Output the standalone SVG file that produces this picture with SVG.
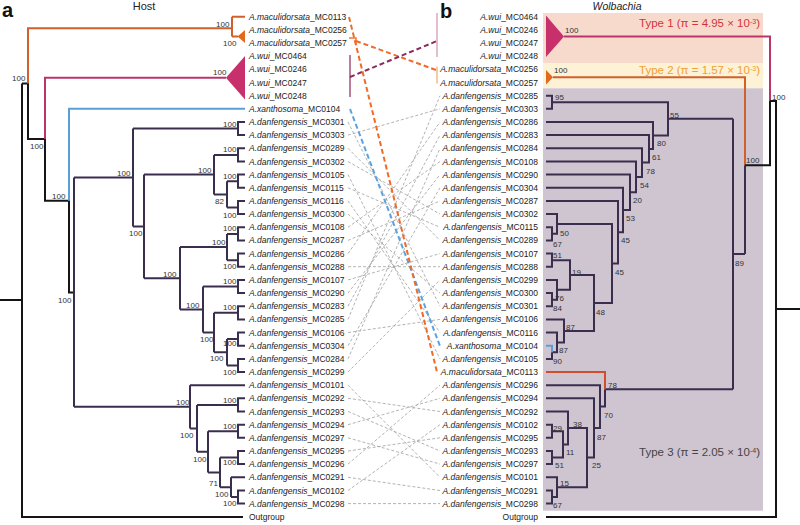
<svg xmlns="http://www.w3.org/2000/svg" width="800" height="525" viewBox="0 0 800 525">
<style>
text{font-family:"Liberation Sans",Arial,sans-serif}
.t{font-size:8.5px;fill:#222}
.r{text-anchor:end}
.i{font-style:italic}
.s{font-size:8px;fill:#333}
.tr{fill:none;stroke:#3a2e4f;stroke-width:2;stroke-linejoin:miter}
.bk{fill:none;stroke:#151515;stroke-width:2}
.or{fill:none;stroke:#d0602c;stroke-width:2}
.cr{fill:none;stroke:#bb356d;stroke-width:2}
.bl{fill:none;stroke:#5b9fd8;stroke-width:2}
.gd{fill:none;stroke:#a0a0a0;stroke-width:0.8;stroke-dasharray:3 2}
.cd{fill:none;stroke-width:2;stroke-dasharray:5 3}
</style>
<rect width="800" height="525" fill="#fff"/>
<g id="panel-titles">
<text x="2" y="17" font-size="20" font-weight="bold" fill="#111">a</text>
<text x="440" y="18" font-size="20" font-weight="bold" fill="#111">b</text>
<text x="144" y="10" font-size="11" text-anchor="middle" fill="#222">Host</text>
<text x="617" y="10" font-size="10.5" font-style="italic" text-anchor="middle" fill="#222">Wolbachia</text>
</g>
<g id="type-bands">
<rect x="543" y="13" width="220" height="50.3" fill="#f8dacd"/>
<rect x="543" y="63.3" width="220" height="25" fill="#fdf1d6"/>
<rect x="543" y="88.3" width="220" height="422.4" fill="#cfc5d1"/>
<text x="760" y="27" font-size="11.5" text-anchor="end" fill="#d2333a">Type 1 (π = 4.95 × 10<tspan font-size="7" baseline-shift="super">-3</tspan>)</text>
<text x="760" y="73.5" font-size="11.5" text-anchor="end" fill="#f0a035">Type 2 (π = 1.57 × 10<tspan font-size="7" baseline-shift="super">-3</tspan>)</text>
<text x="760" y="456" font-size="11.5" text-anchor="end" fill="#444">Type 3 (π = 2.05 × 10<tspan font-size="7" baseline-shift="super">-4</tspan>)</text>
</g>
<g id="host-tree">
<path class="bk" d="M0,300H22M22,83.6V517H243M22,83.6H28V139H45V200.7H69V292.6H74"/>
<path class="or" d="M28,83.6V28.3H232M232,16.7V36.5M232,16.7H245M232,36.5H238"/>
<polygon points="237.5,36.5 245,30 245,43" fill="#e2681f"/>
<path class="cr" d="M45,139V77.7H226"/>
<polygon points="226,77.7 245,56 245,99.5" fill="#c8306c"/>
<path class="bl" d="M69,200.7V108.8H245"/>
<path class="tr" d="M74,177.5V406.8M74,177.5H133M133,128.5V226.5M133,128.5H238M245,122H238V135.1H245
M133,226.5H144M144,174.6V278.3M144,174.6H214M214,154.9V194.4M214,154.9H238M245,148.3H238V161.5H245
M214,194.4H227M227,181.2V207.5M227,181.2H238M245,174.6H238V187.8H245M227,207.5H238M245,200.9H238V214.1H245
M144,278.3H180M180,247V309.5M180,247H227M227,233.9V260.2M227,233.9H238M245,227.3H238V240.4H245M227,260.2H238M245,253.6H238V266.7H245
M180,309.5H203M203,286.5V332.5M203,286.5H238M245,279.9H238V293.1H245
M203,332.5H214M214,312.8V352.3M214,312.8H238M245,306.2H238V319.4H245
M214,352.3H227M227,339.1V365.5M227,339.1H238M245,332.5H238V345.7H245M227,365.5H238M245,358.9H238V372H245
M74,406.8H190M190,385.2V428.4M190,385.2H245
M190,428.4H197M197,404.9V451.8M197,404.9H238M245,398.3H238V411.5H245
M197,451.8H208M208,431.3V472.4M208,431.3H238M245,424.7H238V437.8H245
M208,472.4H220M220,457.5V487.2M220,457.5H238M245,451H238V464.1H245
M220,487.2H231M231,477.3V497M231,477.3H245M231,497H238M245,490.5H238V503.6H245"/>
</g>
<g id="host-support" class="s">
<text x="12" y="81">100</text><text x="30" y="149">100</text><text x="52" y="199">100</text><text x="58" y="303">100</text>
<text x="117" y="176">100</text><text x="129" y="236">100</text><text x="216" y="27">100</text><text x="223" y="46">100</text>
<text x="213" y="75">100</text><text x="198" y="173">100</text><text x="215" y="204">82</text><text x="163" y="277">100</text>
<text x="212" y="245">100</text><text x="186" y="308">100</text><text x="200" y="342">100</text><text x="210" y="361">100</text>
<text x="176" y="405">100</text><text x="180" y="438">100</text><text x="193" y="462">100</text><text x="209" y="486">71</text>
<text x="215" y="497">100</text>
<text x="223" y="127">100</text><text x="223" y="152">100</text><text x="223" y="179">100</text><text x="223" y="218">100</text>
<text x="223" y="231">100</text><text x="223" y="269">100</text><text x="223" y="284">100</text><text x="223" y="310">100</text>
<text x="223" y="346">100</text><text x="223" y="375">100</text><text x="223" y="403">100</text><text x="223" y="429">100</text>
<text x="223" y="465">100</text><text x="223" y="506">100</text>
</g>
<g id="host-labels" class="t">
<text id="h0" x="249" y="19.7"><tspan class="i">A.maculidorsata</tspan>_MC0113</text>
<text id="h1" x="249" y="32.9"><tspan class="i">A.maculidorsata</tspan>_MC0256</text>
<text id="h2" x="249" y="46"><tspan class="i">A.maculidorsata</tspan>_MC0257</text>
<text id="h3" x="249" y="59.2"><tspan class="i">A.wui</tspan>_MC0464</text>
<text id="h4" x="249" y="72.3"><tspan class="i">A.wui</tspan>_MC0246</text>
<text id="h5" x="249" y="85.5"><tspan class="i">A.wui</tspan>_MC0247</text>
<text id="h6" x="249" y="98.7"><tspan class="i">A.wui</tspan>_MC0248</text>
<text id="h7" x="249" y="111.8"><tspan class="i">A.xanthosoma</tspan>_MC0104</text>
<text id="h8" x="249" y="125"><tspan class="i">A.danfengensis</tspan>_MC0301</text>
<text id="h9" x="249" y="138.1"><tspan class="i">A.danfengensis</tspan>_MC0303</text>
<text id="h10" x="249" y="151.3"><tspan class="i">A.danfengensis</tspan>_MC0289</text>
<text id="h11" x="249" y="164.5"><tspan class="i">A.danfengensis</tspan>_MC0302</text>
<text id="h12" x="249" y="177.6"><tspan class="i">A.danfengensis</tspan>_MC0105</text>
<text id="h13" x="249" y="190.8"><tspan class="i">A.danfengensis</tspan>_MC0115</text>
<text id="h14" x="249" y="203.9"><tspan class="i">A.danfengensis</tspan>_MC0116</text>
<text id="h15" x="249" y="217.1"><tspan class="i">A.danfengensis</tspan>_MC0300</text>
<text id="h16" x="249" y="230.3"><tspan class="i">A.danfengensis</tspan>_MC0108</text>
<text id="h17" x="249" y="243.4"><tspan class="i">A.danfengensis</tspan>_MC0287</text>
<text id="h18" x="249" y="256.6"><tspan class="i">A.danfengensis</tspan>_MC0286</text>
<text id="h19" x="249" y="269.7"><tspan class="i">A.danfengensis</tspan>_MC0288</text>
<text id="h20" x="249" y="282.9"><tspan class="i">A.danfengensis</tspan>_MC0107</text>
<text id="h21" x="249" y="296.1"><tspan class="i">A.danfengensis</tspan>_MC0290</text>
<text id="h22" x="249" y="309.2"><tspan class="i">A.danfengensis</tspan>_MC0283</text>
<text id="h23" x="249" y="322.4"><tspan class="i">A.danfengensis</tspan>_MC0285</text>
<text id="h24" x="249" y="335.5"><tspan class="i">A.danfengensis</tspan>_MC0106</text>
<text id="h25" x="249" y="348.7"><tspan class="i">A.danfengensis</tspan>_MC0304</text>
<text id="h26" x="249" y="361.9"><tspan class="i">A.danfengensis</tspan>_MC0284</text>
<text id="h27" x="249" y="375"><tspan class="i">A.danfengensis</tspan>_MC0299</text>
<text id="h28" x="249" y="388.2"><tspan class="i">A.danfengensis</tspan>_MC0101</text>
<text id="h29" x="249" y="401.3"><tspan class="i">A.danfengensis</tspan>_MC0292</text>
<text id="h30" x="249" y="414.5"><tspan class="i">A.danfengensis</tspan>_MC0293</text>
<text id="h31" x="249" y="427.7"><tspan class="i">A.danfengensis</tspan>_MC0294</text>
<text id="h32" x="249" y="440.8"><tspan class="i">A.danfengensis</tspan>_MC0297</text>
<text id="h33" x="249" y="454"><tspan class="i">A.danfengensis</tspan>_MC0295</text>
<text id="h34" x="249" y="467.1"><tspan class="i">A.danfengensis</tspan>_MC0296</text>
<text id="h35" x="249" y="480.3"><tspan class="i">A.danfengensis</tspan>_MC0291</text>
<text id="h36" x="249" y="493.5"><tspan class="i">A.danfengensis</tspan>_MC0102</text>
<text id="h37" x="249" y="506.6"><tspan class="i">A.danfengensis</tspan>_MC0298</text>
<text id="h38" x="249" y="519.8">Outgroup</text>
</g>
<g id="wolbachia-tree">
<path class="cr" d="M564,36.5H770V100.9"/>
<polygon points="546,15.5 546,57 564,36.5" fill="#c8306c"/>
<path class="or" d="M553,77.3H745V165.3"/>
<polygon points="546,70 546,84.5 553,77.3" fill="#e2681f"/>
<path class="bk" d="M770,100.9V165.3H745M770,100.9H776V517H546M776,309H800"/>
<path class="tr" d="M745,165.3V254.05M733,118.8V389.3M733,254.05H745M668,118.8H733M605,389.3H733
M546,95.7H552V108.8H546M552,102.25H668V135.4H653
M546,122H653V148.9H649M546,135.1H649V162.6H642M546,148.3H642V176.9H636M546,161.5H636V192.3H630
M546,174.6H630V210H623M546,187.8H623V232.2H618M546,200.9H618V263.4H612M557,224H612V302.9H594
M546,214.1H557V233.85H552M546,227.3H552V240.4H546
M570,275H594V330.9H564M552,260.15H570V289.8H557M546,253.6H552V266.7H546
M546,279.9H557V299.65H552M546,293.1H552V306.2H546
M546,319.4H564V342.4H557M546,332.5H557V352.3H552M552,352.3V358.9H546
M605,389.3V406.6H600M546,385.2H600V427.95H594M546,398.3H594V457.6H587M568,427.95H587V487.2H557
M546,411.5H568V444.4H563M552,431.25H563V457.55H552M546,424.7H552V437.8H546M546,451H552V464.1H546
M546,477.3H557V497.05H552M546,490.5H552V503.6H546"/>
<path fill="none" stroke="#5b9fd8" stroke-width="2" d="M546,345.7H552V352.3"/>
<path fill="none" stroke="#d24e2a" stroke-width="2" d="M546,372H605V389.3"/>
</g>
<g id="wolbachia-support" class="s">
<text x="565" y="33">100</text><text x="554" y="73">100</text><text x="555" y="100">95</text><text x="670" y="118">55</text>
<text x="657" y="146">80</text><text x="652" y="160">61</text><text x="646" y="174">78</text><text x="640" y="188">54</text>
<text x="633" y="203">20</text><text x="626" y="221">53</text><text x="621" y="243">45</text><text x="560" y="236">50</text>
<text x="553" y="247">67</text><text x="553" y="258">51</text><text x="572" y="275">19</text><text x="615" y="275">45</text>
<text x="555" y="301">76</text><text x="553" y="311">84</text><text x="596" y="315">48</text><text x="566" y="330">87</text>
<text x="559" y="353">87</text><text x="553" y="364">90</text><text x="735" y="266">89</text><text x="746" y="163">100</text>
<text x="772" y="100">100</text><text x="608" y="388">78</text><text x="604" y="418">70</text><text x="553" y="431">29</text>
<text x="573" y="427">38</text><text x="597" y="440">87</text><text x="566" y="455">11</text><text x="555" y="468">51</text>
<text x="592" y="468">25</text><text x="560" y="486">15</text><text x="553" y="508">67</text>
</g>
<g id="wolbachia-labels" class="t r">
<text id="w0" x="538" y="19.7"><tspan class="i">A.wui</tspan>_MC0464</text>
<text id="w1" x="538" y="32.9"><tspan class="i">A.wui</tspan>_MC0246</text>
<text id="w2" x="538" y="46"><tspan class="i">A.wui</tspan>_MC0247</text>
<text id="w3" x="538" y="59.2"><tspan class="i">A.wui</tspan>_MC0248</text>
<text id="w4" x="538" y="72.3"><tspan class="i">A.maculidorsata</tspan>_MC0256</text>
<text id="w5" x="538" y="85.5"><tspan class="i">A.maculidorsata</tspan>_MC0257</text>
<text id="w6" x="538" y="98.7"><tspan class="i">A.danfengensis</tspan>_MC0285</text>
<text id="w7" x="538" y="111.8"><tspan class="i">A.danfengensis</tspan>_MC0303</text>
<text id="w8" x="538" y="125"><tspan class="i">A.danfengensis</tspan>_MC0286</text>
<text id="w9" x="538" y="138.1"><tspan class="i">A.danfengensis</tspan>_MC0283</text>
<text id="w10" x="538" y="151.3"><tspan class="i">A.danfengensis</tspan>_MC0284</text>
<text id="w11" x="538" y="164.5"><tspan class="i">A.danfengensis</tspan>_MC0108</text>
<text id="w12" x="538" y="177.6"><tspan class="i">A.danfengensis</tspan>_MC0290</text>
<text id="w13" x="538" y="190.8"><tspan class="i">A.danfengensis</tspan>_MC0304</text>
<text id="w14" x="538" y="203.9"><tspan class="i">A.danfengensis</tspan>_MC0287</text>
<text id="w15" x="538" y="217.1"><tspan class="i">A.danfengensis</tspan>_MC0302</text>
<text id="w16" x="538" y="230.3"><tspan class="i">A.danfengensis</tspan>_MC0115</text>
<text id="w17" x="538" y="243.4"><tspan class="i">A.danfengensis</tspan>_MC0289</text>
<text id="w18" x="538" y="256.6"><tspan class="i">A.danfengensis</tspan>_MC0107</text>
<text id="w19" x="538" y="269.7"><tspan class="i">A.danfengensis</tspan>_MC0288</text>
<text id="w20" x="538" y="282.9"><tspan class="i">A.danfengensis</tspan>_MC0299</text>
<text id="w21" x="538" y="296.1"><tspan class="i">A.danfengensis</tspan>_MC0300</text>
<text id="w22" x="538" y="309.2"><tspan class="i">A.danfengensis</tspan>_MC0301</text>
<text id="w23" x="538" y="322.4"><tspan class="i">A.danfengensis</tspan>_MC0106</text>
<text id="w24" x="538" y="335.5"><tspan class="i">A.danfengensis</tspan>_MC0116</text>
<text id="w25" x="538" y="348.7"><tspan class="i">A.xanthosoma</tspan>_MC0104</text>
<text id="w26" x="538" y="361.9"><tspan class="i">A.danfengensis</tspan>_MC0105</text>
<text id="w27" x="538" y="375"><tspan class="i">A.maculidorsata</tspan>_MC0113</text>
<text id="w28" x="538" y="388.2"><tspan class="i">A.danfengensis</tspan>_MC0296</text>
<text id="w29" x="538" y="401.3"><tspan class="i">A.danfengensis</tspan>_MC0294</text>
<text id="w30" x="538" y="414.5"><tspan class="i">A.danfengensis</tspan>_MC0292</text>
<text id="w31" x="538" y="427.7"><tspan class="i">A.danfengensis</tspan>_MC0102</text>
<text id="w32" x="538" y="440.8"><tspan class="i">A.danfengensis</tspan>_MC0295</text>
<text id="w33" x="538" y="454"><tspan class="i">A.danfengensis</tspan>_MC0293</text>
<text id="w34" x="538" y="467.1"><tspan class="i">A.danfengensis</tspan>_MC0297</text>
<text id="w35" x="538" y="480.3"><tspan class="i">A.danfengensis</tspan>_MC0101</text>
<text id="w36" x="538" y="493.5"><tspan class="i">A.danfengensis</tspan>_MC0291</text>
<text id="w37" x="538" y="506.6"><tspan class="i">A.danfengensis</tspan>_MC0298</text>
<text id="w38" x="538" y="519.8">Outgroup</text>
</g>
<g id="connectors">
<path class="gd" d="M348,122L440,306.2M348,135.1L440,108.8M348,148.3L440,240.4M348,161.5L440,214.1M348,174.6L440,358.9
M348,187.8L440,227.3M348,200.9L440,332.5M348,214.1L440,293.1M348,227.3L440,161.5M348,240.4L440,200.9
M348,253.6L440,122M348,266.7L440,266.7M348,279.9L440,253.6M348,293.1L440,174.6M348,306.2L440,135.1
M348,319.4L440,95.7M348,332.5L440,319.4M348,345.7L440,187.8M348,358.9L440,148.3M348,372L440,279.9
M348,385.2L440,477.3M348,398.3L440,411.5M348,411.5L440,451M348,424.7L440,398.3M348,437.8L440,464.1
M348,451L440,437.8M348,464.1L440,385.2M348,477.3L440,490.5M348,490.5L440,424.7M348,503.6L440,503.6"/>
<path fill="none" stroke="#a9507c" stroke-width="1.5" d="M350,55V97"/>
<path fill="none" stroke="#d8a8c0" stroke-width="1.5" d="M437,13V57"/>
<path fill="none" stroke="#ea7a30" stroke-width="1.5" d="M349,38H356V45"/>
<path fill="none" stroke="#f5b88a" stroke-width="1.5" d="M437,66.5V83.5"/>
<path class="cd" stroke="#f06a28" d="M356,41L436,70"/>
<path class="cd" stroke="#8c2a5a" d="M350,77L437,41"/>
<path class="cd" stroke="#5ba3e0" d="M350,109L440,346"/>
<path class="cd" stroke="#f06a28" d="M349,17L437,372"/>
</g>
</svg>
